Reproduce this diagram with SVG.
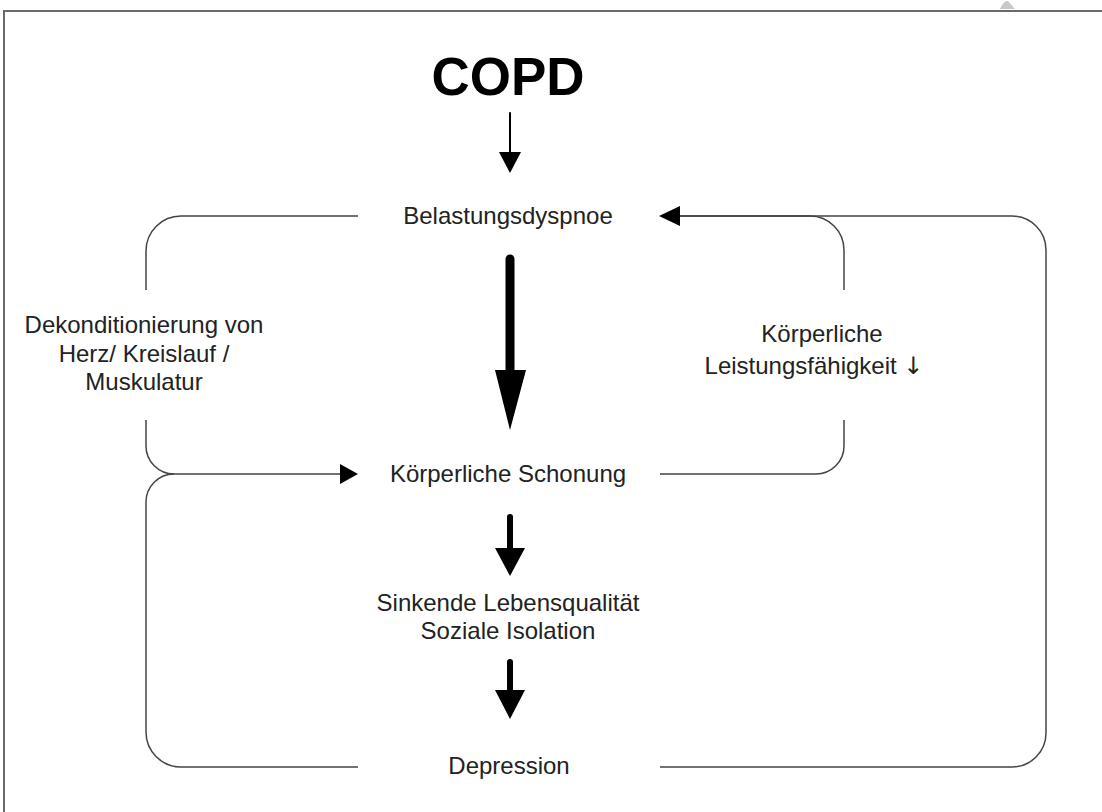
<svg xmlns="http://www.w3.org/2000/svg" width="1102" height="812" viewBox="0 0 1102 812">
<style>
text{font-family:"Liberation Sans",Arial,sans-serif;fill:#222;font-size:24px;text-anchor:middle}
.title{font-weight:bold;font-size:53px;fill:#000}
.conn{fill:none;stroke:#444;stroke-width:1.5}
.head{fill:#000}
.shaft{stroke:#000;stroke-linecap:round}
</style>
<rect width="1102" height="812" fill="#fff"/>
<path d="M4,812 V11 H1102" fill="none" stroke="#6a6a6a" stroke-width="2"/>
<path d="M1000,9 Q1004,0 1008,1 L1015,9 Z" fill="#c8c8c8"/>
<g id="connectors">
<path class="conn" d="M358,216 H181 A35,35 0 0 0 146,251 V290"/>
<path class="conn" d="M146,420 V446 A28,28 0 0 0 174,474 H342"/>
<polygon class="head" points="358,474 340,464 340,484"/>
<path class="conn" d="M358,767 H181 A35,35 0 0 1 146,732 V502 A28,28 0 0 1 174,474"/>
<path class="conn" d="M660,474 H816 A28,28 0 0 0 844,446 V420"/>
<path class="conn" d="M844,290 V250 A34,34 0 0 0 810,216 H678"/>
<path class="conn" d="M660,767 H1012 A34,34 0 0 0 1046,733 V250 A34,34 0 0 0 1012,216 H678"/>
<polygon class="head" points="659,216 680,206 680,226"/>
<line class="shaft" x1="510" y1="113" x2="510" y2="155" stroke-width="2" stroke-linecap="butt"/>
<polygon class="head" points="499,152 521,152 510,173"/>
<line class="shaft" x1="510" y1="259" x2="510" y2="375" stroke-width="9"/>
<polygon class="head" points="495,370 526,370 510,430"/>
<line class="shaft" x1="510" y1="517" x2="510" y2="552" stroke-width="6"/>
<polygon class="head" points="495,548 525,548 510,576"/>
<line class="shaft" x1="510" y1="662" x2="510" y2="694" stroke-width="6"/>
<polygon class="head" points="495,690 525,690 510,719"/>
</g>
<g id="copd"><text class="title" x="508" y="95">COPD</text></g>
<g id="belastungsdyspnoe"><text x="508" y="224">Belastungsdyspnoe</text></g>
<g id="dekonditionierung"><text x="144" y="333">Dekonditionierung von</text><text x="144" y="362">Herz/ Kreislauf /</text><text x="144" y="390">Muskulatur</text></g>
<g id="leistungsfaehigkeit"><text x="822" y="342">Körperliche</text><text x="814" y="374">Leistungsfähigkeit <tspan font-family="DejaVu Sans, sans-serif">↓</tspan></text></g>
<g id="schonung"><text x="508" y="482">Körperliche Schonung</text></g>
<g id="lebensqualitaet"><text x="508" y="611">Sinkende Lebensqualität</text><text x="508" y="639">Soziale Isolation</text></g>
<g id="depression"><text x="509" y="774">Depression</text></g>
</svg>
